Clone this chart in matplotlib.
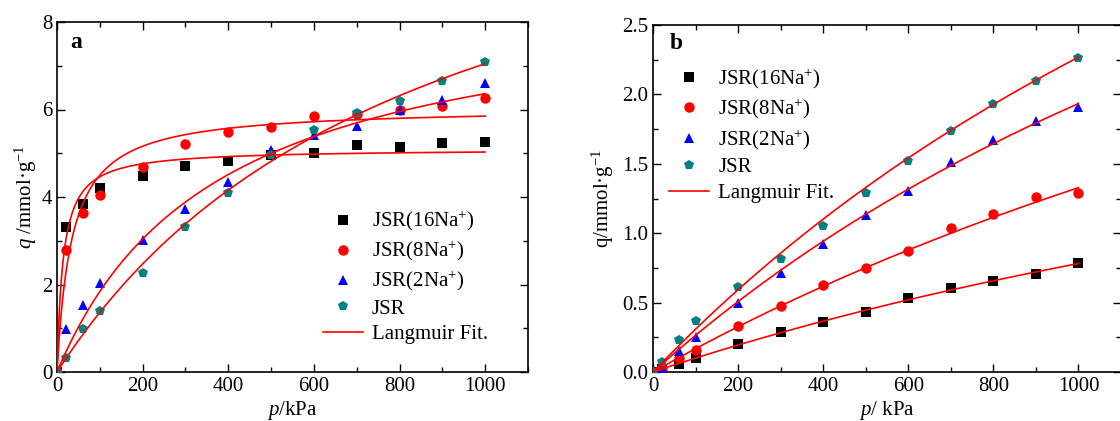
import numpy as np
import matplotlib
matplotlib.use("Agg")
import matplotlib.pyplot as plt
from matplotlib.ticker import MultipleLocator

plt.rcParams['font.family'] = ['Liberation Serif', 'DejaVu Serif']
plt.rcParams['mathtext.fontset'] = 'custom'
plt.rcParams['mathtext.rm'] = 'Liberation Serif'
plt.rcParams['mathtext.it'] = 'Liberation Serif:italic'
plt.rcParams['mathtext.bf'] = 'Liberation Serif:bold'

# ---------------- data ----------------
pressure = [0, 20, 60, 100, 200, 300, 400, 500, 600, 700, 800, 900, 1000]

# panel a
a_16na = [0, 3.32, 3.84, 4.20, 4.47, 4.70, 4.83, 4.97, 5.00, 5.18, 5.15, 5.23, 5.25]
a_8na = [0, 2.80, 3.63, 4.05, 4.69, 5.21, 5.48, 5.61, 5.85, 5.90, 5.99, 6.09, 6.26]
a_2na = [0, 0.99, 1.53, 2.04, 3.02, 3.73, 4.34, 5.08, 5.41, 5.63, 5.98, 6.21, 6.61]
a_jsr = [0, 0.33, 0.99, 1.40, 2.27, 3.31, 4.09, 4.97, 5.53, 5.92, 6.19, 6.66, 7.08]
# Langmuir fit parameters (qm, b)
a_fit_qm = [5.10, 6.05, 8.75, 13.14]
a_fit_b = [0.070, 0.029, 0.002663, 0.001157]

# panel b
b_16na = [0, 0.02, 0.055, 0.103, 0.20, 0.29, 0.363, 0.435, 0.531, 0.603, 0.656, 0.709, 0.788]
b_8na = [0, 0.024, 0.099, 0.156, 0.332, 0.476, 0.627, 0.752, 0.870, 1.038, 1.135, 1.262, 1.293]
b_2na = [0, 0.03, 0.15, 0.25, 0.50, 0.716, 0.925, 1.13, 1.305, 1.51, 1.673, 1.805, 1.906]
b_jsr = [0, 0.075, 0.228, 0.368, 0.613, 0.817, 1.053, 1.293, 1.522, 1.738, 1.93, 2.099, 2.26]
b_fit_qm = [3.19, 5.70, 6.49, 7.72]
b_fit_b = [0.0003245, 0.0003038, 0.0004245, 0.000416]

labels = ['JSR(16Na$^{+}$)', 'JSR(8Na$^{+}$)', 'JSR(2Na$^{+}$)', 'JSR']
fit_label = 'Langmuir Fit.'

colors = ['black', '#ff0000', '#0000ff', '#008080']
markers = ['s', 'o', '^', 'p']
msizes = [6.5, 7.5, 7.5, 7.5]

W, H = 1120, 421
fig = plt.figure(figsize=(W / 100, H / 100), dpi=100)

axA = fig.add_axes([57 / W, (H - 372) / H, 471 / W, 350 / H])
axB = fig.add_axes([653 / W, (H - 372) / H, 468 / W, 347 / H])

p_fit = np.linspace(0, 1000, 400)


def langmuir(p, qm, b):
    return qm * b * p / (1 + b * p)


def draw(ax, series, qms, bs):
    for s, c, m, ms, lab in zip(series, colors, markers, msizes, labels):
        ax.plot(pressure, s, linestyle='none', marker=m, color=c,
                markersize=ms, markeredgewidth=0, label=lab, zorder=3)
    for i, (qm, b) in enumerate(zip(qms, bs)):
        ax.plot(p_fit, langmuir(p_fit, qm, b), color='#ff0000', lw=1.2,
                label=fit_label if i == 0 else None, zorder=4)
    ax.set_xlim(0, 1100)
    ax.xaxis.set_major_locator(MultipleLocator(200))
    ax.xaxis.set_minor_locator(MultipleLocator(100))
    ax.tick_params(which='both', direction='in', top=True, right=True,
                   labelsize=15, width=1.0)
    ax.tick_params(which='major', length=6)
    ax.tick_params(which='minor', length=3.5)
    for sp in ax.spines.values():
        sp.set_linewidth(1.2)


draw(axA, [a_16na, a_8na, a_2na, a_jsr], a_fit_qm, a_fit_b)
axA.set_ylim(0, 8)
axA.yaxis.set_major_locator(MultipleLocator(2))
axA.yaxis.set_minor_locator(MultipleLocator(1))
axA.set_xlabel('$p$/kPa', fontsize=15, labelpad=2)
axA.set_ylabel('$q$ /mmol·g$^{-1}$', fontsize=15, labelpad=2)
axA.text(0.028, 0.94, 'a', transform=axA.transAxes, fontsize=17,
         fontweight='bold', va='center', ha='left')
axA.legend(loc='upper left', bbox_to_anchor=(0.565, 0.465), frameon=False,
           fontsize=15, handlelength=1.9, handletextpad=0.45,
           labelspacing=0.28, borderaxespad=0, borderpad=0)

draw(axB, [b_16na, b_8na, b_2na, b_jsr], b_fit_qm, b_fit_b)
axB.set_ylim(0, 2.5)
axB.yaxis.set_major_locator(MultipleLocator(0.5))
axB.yaxis.set_minor_locator(MultipleLocator(0.25))
axB.yaxis.set_major_formatter(matplotlib.ticker.FormatStrFormatter('%.1f'))
axB.set_xlabel('$p$/ kPa', fontsize=15, labelpad=2)
axB.set_ylabel('q/mmol·g$^{-1}$', fontsize=15, labelpad=4)
axB.text(0.036, 0.948, 'b', transform=axB.transAxes, fontsize=17,
         fontweight='bold', va='center', ha='left')
axB.legend(loc='upper left', bbox_to_anchor=(0.035, 0.88), frameon=False,
           fontsize=15, handlelength=1.9, handletextpad=0.45,
           labelspacing=0.3, borderaxespad=0, borderpad=0)

fig.savefig('out.png', dpi=100)
